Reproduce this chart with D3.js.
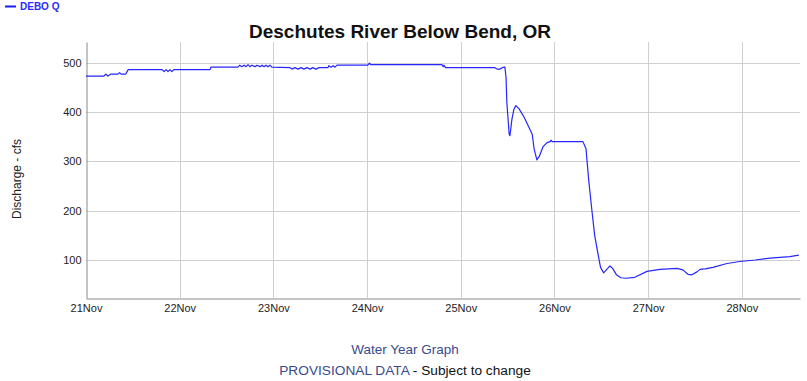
<!DOCTYPE html>
<html>
<head>
<meta charset="utf-8">
<script src="https://cdn.jsdelivr.net/npm/d3@7"></script>
<style>
  html, body { margin: 0; padding: 0; background: #fff; }
  svg { display: block; font-family: Arial, "Liberation Sans", sans-serif; }
</style>
</head>
<body>
<svg id="chart" width="807" height="381"></svg>
<script>
// ---- data ----
const startDate = "2023-11-21T00:00:00";
const hoursSinceStart = [
  0, 4.6, 5.1, 5.6, 6.4, 8.2, 8.6, 9.0, 10.2, 10.8,
  19.5, 20.0, 20.5, 21.0, 21.5, 22.0, 22.5, 31.8, 32.0, 38.9,
  39.4, 39.9, 40.5, 41.0, 41.5, 42.0, 42.5, 43.3, 43.8, 44.6,
  45.1, 45.6, 46.1, 46.6, 47.1, 47.6, 52.3, 52.8, 53.5, 54.3,
  55.1, 55.8, 56.6, 57.4, 58.1, 58.9, 59.7, 62.0, 62.2, 62.8,
  63.3, 63.8, 64.3, 72.2, 72.6, 73.0, 91.2, 91.5, 91.7, 92.1,
  104.8, 105.3, 106.0, 106.6, 107.3, 107.6, 107.8, 108.4, 108.6, 109.1,
  109.6, 110.1, 110.9, 112.2, 113.7, 114.3, 114.8, 115.5, 116.1, 117.1,
  118.1, 118.9, 119.1, 119.4, 127.3, 128.1, 128.3, 128.8, 129.6, 130.3,
  131.1, 131.8, 132.6, 133.3, 134.2, 134.9, 135.9, 137.0, 138.3, 140.6,
  143.7, 147.0, 151.4, 152.9, 154.2, 155.2, 156.5, 157.3, 158.6, 160.6,
  164.2, 167.5, 171.4, 175.2, 180.3, 182.6
];
const discharge = [
  473, 473, 477, 473, 477, 477, 480, 477, 477, 486,
  486, 482, 486, 482, 486, 482, 486, 486, 491, 491,
  495, 492, 495, 492, 496, 492, 495, 492, 495, 492,
  495, 492, 495, 492, 495, 491, 490, 487, 490, 487,
  490, 487, 490, 487, 490, 487, 490, 490, 494, 491,
  494, 491, 495, 495, 499, 496, 496, 492, 495, 490,
  490, 487, 487, 490, 491, 470, 420, 355, 352, 385,
  405, 413, 407, 390, 365, 355, 325, 303, 310, 330,
  338, 340, 343, 340, 340, 325, 305, 260, 200, 150,
  115, 85, 74, 80, 88, 83, 70, 64, 63, 65,
  77, 81, 83, 80, 71, 70, 76, 81, 82, 85,
  93, 97, 100, 104, 107, 110
];
const yTicks = [100, 200, 300, 400, 500];
const xTickLabels = ["21Nov", "22Nov", "23Nov", "24Nov", "25Nov", "26Nov", "27Nov", "28Nov"];
const seriesName = "DEBO Q";
const titleText = "Deschutes River Below Bend, OR";
const yLabel = "Discharge - cfs";

// ---- layout ----
const plot = { left: 86, right: 800, top: 42, bottom: 298 };
const svg = d3.select("#chart");
const t0 = new Date(startDate);
const toDate = h => new Date(t0.getTime() + h * 3600e3);

const x = d3.scaleTime()
  .domain([t0, toDate(182.9)])
  .range([plot.left, plot.right]);
const y = d3.scaleLinear()
  .domain([23, 542])
  .range([plot.bottom, plot.top]);

const tickDates = xTickLabels.map((_, i) => toDate(i * 24));

// gridlines
const grid = svg.append("g");
grid.selectAll("line.h").data(yTicks).join("line")
  .attr("x1", plot.left).attr("x2", plot.right)
  .attr("y1", d => Math.round(y(d)) + 0.5).attr("y2", d => Math.round(y(d)) + 0.5)
  .attr("stroke", "#cfcfcf").attr("stroke-width", 1);
grid.selectAll("line.v").data(tickDates.slice(1)).join("line")
  .attr("x1", d => Math.round(x(d)) + 0.5).attr("x2", d => Math.round(x(d)) + 0.5)
  .attr("y1", plot.top).attr("y2", plot.bottom)
  .attr("stroke", "#cfcfcf").attr("stroke-width", 1);

// y axis
const yAxis = d3.axisLeft(y).tickValues(yTicks).tickSize(0).tickPadding(5);
const gy = svg.append("g").attr("transform", `translate(${plot.left + 0.5},0)`).call(yAxis);
gy.select(".domain").attr("stroke", "#8a8a8a");
gy.selectAll("text").attr("font-size", 11).attr("fill", "#222")
  .attr("font-family", "Arial, 'Liberation Sans', sans-serif");

// x axis
const xAxis = d3.axisBottom(x).tickValues(tickDates)
  .tickFormat((d, i) => xTickLabels[i]).tickSize(0).tickPadding(6);
const gx = svg.append("g").attr("transform", `translate(0,${plot.bottom + 0.5})`).call(xAxis);
gx.select(".domain").attr("stroke", "#8a8a8a");
gx.selectAll("text").attr("font-size", 11).attr("fill", "#222")
  .attr("font-family", "Arial, 'Liberation Sans', sans-serif");

// line
const pts = hoursSinceStart.map((h, i) => ({ t: toDate(h), v: discharge[i] }));
const line = d3.line().x(d => x(d.t)).y(d => y(d.v));
svg.append("path").datum(pts)
  .attr("d", line)
  .attr("fill", "none")
  .attr("stroke", "#2626ff")
  .attr("stroke-width", 1.2)
  .attr("stroke-linejoin", "round");

// title
svg.append("text").attr("x", 400).attr("y", 38)
  .attr("text-anchor", "middle").attr("font-size", 19).attr("font-weight", "bold")
  .attr("fill", "#111").text(titleText);

// legend
svg.append("line").attr("x1", 5).attr("x2", 16).attr("y1", 6.5).attr("y2", 6.5)
  .attr("stroke", "#1a1aff").attr("stroke-width", 2);
svg.append("text").attr("x", 20).attr("y", 10)
  .attr("font-size", 10).attr("font-weight", "bold").attr("fill", "#2a2aff")
  .text(seriesName);

// y label
svg.append("text")
  .attr("transform", `translate(21,179) rotate(-90)`)
  .attr("text-anchor", "middle").attr("font-size", 12).attr("fill", "#222")
  .text(yLabel);

// footer
svg.append("text").attr("x", 405).attr("y", 354)
  .attr("text-anchor", "middle").attr("font-size", 13.5).attr("fill", "#3b4a8f")
  .text("Water Year Graph");
const foot = svg.append("text").attr("x", 405).attr("y", 375)
  .attr("text-anchor", "middle").attr("font-size", 13.7);
foot.append("tspan").attr("fill", "#3b4a8f").text("PROVISIONAL DATA");
foot.append("tspan").attr("fill", "#111").text(" - Subject to change");
</script>
</body>
</html>
